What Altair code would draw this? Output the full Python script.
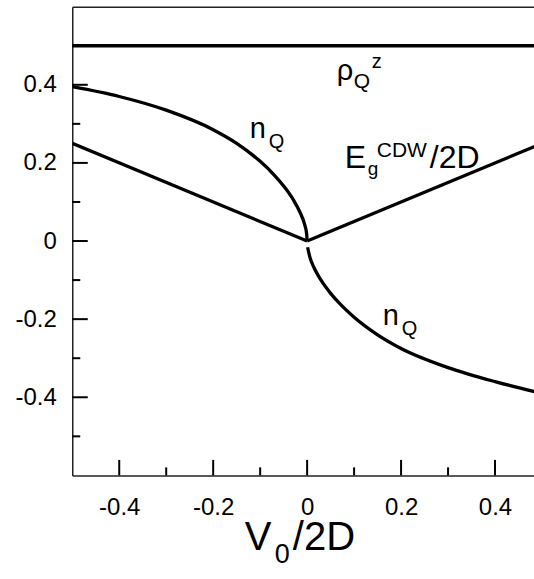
import altair as alt
import pandas as pd

# ---- data ----
# n_Q for V0 < 0 (positive branch)
v_nq_left = [-0.5, -0.4, -0.3, -0.2, -0.15, -0.1, -0.07, -0.05, -0.03, -0.015, -0.006, -0.001, 0.0]
nq_left = [0.395, 0.370, 0.335, 0.285, 0.250, 0.204, 0.169, 0.141, 0.107, 0.073, 0.045, 0.018, 0.0]
# n_Q for V0 > 0 (negative branch)
v_nq_right = [0.001, 0.006, 0.015, 0.03, 0.05, 0.07, 0.1, 0.15, 0.2, 0.3, 0.4, 0.5]
nq_right = [-0.016, -0.042, -0.069, -0.101, -0.134, -0.161, -0.195, -0.240, -0.275, -0.324, -0.360, -0.390]
# E_g^CDW / 2D
v_gap = [-0.5, 0.0, 0.5]
e_gap = [0.25, 0.0, 0.25]
# rho_Q^z
v_rho = [-0.5, 0.5]
rho = [0.5, 0.5]

x_ticks_major = [-0.4, -0.2, 0.0, 0.2, 0.4]
x_ticks_minor = [-0.3, -0.1, 0.1, 0.3]
y_ticks_major = [-0.4, -0.2, 0.0, 0.2, 0.4]
y_ticks_minor = [-0.5, -0.3, -0.1, 0.1, 0.3, 0.5]

# label pieces: text, left x (px), baseline y (px), font size
lab_text = ["ρ", "Q", "z", "n", "Q", "n", "Q", "E", "g", "CDW", "/2D", "V", "0", "/2D"]
lab_px = [337, 354, 372, 250, 269, 383, 402, 345, 368, 377, 430, 245, 275, 293]
lab_py = [80, 88, 68, 138, 148, 325, 335, 168, 175, 157, 168, 550, 563, 550]
lab_size = [29, 21, 20, 29, 20, 29, 20, 32, 19, 21, 32, 40, 27, 40]

# ---- layout ----
LEFT, TOP = 72.3, 6.5
W, H = 462, 469
FONT = "Liberation Sans"

rows = []
for v, n in zip(v_nq_left, nq_left):
    rows.append({"V": v, "val": n, "series": "nQ_left"})
for v, n in zip(v_nq_right, nq_right):
    rows.append({"V": v, "val": n, "series": "nQ_right"})
for v, e in zip(v_gap, e_gap):
    if v <= 0:
        rows.append({"V": v, "val": e, "series": "E_left"})
    if v >= 0:
        rows.append({"V": v, "val": e, "series": "E_right"})
df_lines = pd.DataFrame(rows)
df_rho = pd.DataFrame({"V": v_rho, "val": rho})

xs = alt.Scale(domain=[-0.5, 0.483], nice=False, zero=False)
ys = alt.Scale(domain=[-0.6, 0.6], nice=False, zero=False)

lab_expr = ("datum.value == 0 ? '0' : (datum.value < 0 ? '-' + format(-datum.value, '.1f') "
            ": format(datum.value, '.1f'))")

x_axis = alt.Axis(values=x_ticks_major, ticks=False, tickSize=0, grid=False, title=None,
                  labelFont=FONT, labelFontSize=24, labelColor="black", labelPadding=20,
                  domainColor="#222", domainWidth=1.5, labelExpr=lab_expr)
y_axis = alt.Axis(values=y_ticks_major, ticks=False, tickSize=0, grid=False, title=None,
                  labelFont=FONT, labelFontSize=24, labelColor="black", labelPadding=16,
                  domainColor="#222", domainWidth=1.5, labelExpr=lab_expr)
top_axis = alt.Axis(orient="top", labels=False, ticks=False, grid=False, title=None,
                    domainColor="#222", domainWidth=1.5)

lines = alt.Chart(df_lines).mark_line(color="black", strokeWidth=3.3, clip=True,
                                      interpolate="monotone").encode(
    x=alt.X("V:Q", scale=xs, axis=x_axis),
    y=alt.Y("val:Q", scale=ys, axis=y_axis),
    detail="series:N",
)

rho_line = alt.Chart(df_rho).mark_line(color="black", strokeWidth=3.5, clip=True).encode(
    x=alt.X("V:Q", scale=xs, axis=top_axis),
    y=alt.Y("val:Q", scale=ys, axis=None),
)

def xtick(vals, length):
    return alt.Chart(pd.DataFrame({"t": vals})).mark_rule(color="black", strokeWidth=2).encode(
        x=alt.X("t:Q", scale=xs, axis=None),
        y=alt.value(H),
        y2=alt.value(H - length),
    )

def ytick(vals, length):
    return alt.Chart(pd.DataFrame({"t": vals})).mark_rule(color="black", strokeWidth=2).encode(
        y=alt.Y("t:Q", scale=ys, axis=None),
        x=alt.value(0),
        x2=alt.value(length),
    )

df_lab = pd.DataFrame({
    "txt": lab_text,
    "px": [p - LEFT for p in lab_px],
    "py": [p - TOP for p in lab_py],
    "fs": lab_size,
})
labels = alt.Chart(df_lab).mark_text(font=FONT, color="black", align="left",
                                     baseline="alphabetic").encode(
    x=alt.X("px:Q", scale=None, axis=None),
    y=alt.Y("py:Q", scale=None, axis=None),
    text="txt:N",
    size=alt.Size("fs:Q", scale=None, legend=None),
)

chart = alt.layer(
    lines, rho_line,
    xtick(x_ticks_major, 15.5), xtick(x_ticks_minor, 8),
    ytick(y_ticks_major, 15.5), ytick(y_ticks_minor, 8),
    labels,
).resolve_axis(x="independent", y="independent").properties(
    width=W, height=H,
    padding={"left": LEFT, "top": TOP, "right": 0, "bottom": 579 - TOP - H},
    autosize=alt.AutoSizeParams(type="none"),
    background="white",
).configure_view(stroke=None)

chart.save("out.html", embed_options={"renderer": "svg", "actions": False})
